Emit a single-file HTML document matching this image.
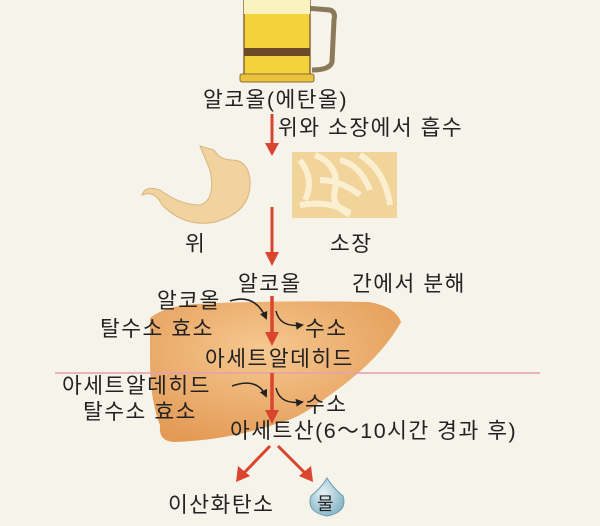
<!DOCTYPE html>
<html><head><meta charset="utf-8"><style>
html,body{margin:0;padding:0;background:#f6f3ea;}
svg{display:block;}
text{font-family:"Liberation Sans","Noto Sans CJK KR",sans-serif;fill:#222;font-size:21.5px;letter-spacing:1.5px;}
</style></head><body>
<svg width="600" height="526" viewBox="0 0 600 526" xmlns="http://www.w3.org/2000/svg">
<defs>
<marker id="ah" markerWidth="8" markerHeight="8" refX="6" refY="4" orient="auto" markerUnits="userSpaceOnUse"><path d="M0,0 L8,4 L0,8 z" fill="#222"/></marker>
<radialGradient id="lv" cx="0.45" cy="0.35" r="0.7"><stop offset="0" stop-color="#f6c890"/><stop offset="1" stop-color="#e39a55"/></radialGradient>
<radialGradient id="dr" cx="0.4" cy="0.4" r="0.7"><stop offset="0" stop-color="#e6f2f6"/><stop offset="1" stop-color="#7fb0c4"/></radialGradient>
</defs>
<rect width="600" height="526" fill="#f6f3ea"/>
<!-- mug -->
<path d="M306,8 L330,10 Q336,12 334,20 L332,62 Q330,70 312,70" fill="none" stroke="#8a7a5a" stroke-width="5"/>
<rect x="244" y="0" width="66" height="78" fill="#f3d23a" stroke="#8a6a3a" stroke-width="1.5"/>
<rect x="244" y="0" width="66" height="14" fill="#fbf2c2"/>
<rect x="244" y="48" width="66" height="8" fill="#6b4a2a"/>
<rect x="240" y="74" width="74" height="8" rx="2" fill="#e9c43a" stroke="#8a6a3a"/>
<text x="203" y="107">알코올(에탄올)</text>
<!-- arrow 1 -->
<line x1="272" y1="114" x2="272" y2="145" stroke="#d9452e" stroke-width="3"/>
<path d="M265,143 L279,143 L272,156 z" fill="#d9452e"/>
<text x="278" y="135">위와 소장에서 흡수</text>
<!-- stomach -->
<path d="M200,146 Q206,160 210,170 Q216,200 200,205 Q180,205 160,190 Q145,185 142,195 Q155,190 162,205 Q185,228 215,222 Q252,212 250,180 Q248,160 232,160 Q220,160 214,150 Z" fill="#f1d3a0" stroke="#d9b57a"/>
<text x="185" y="251">위</text>
<!-- intestine -->
<rect x="292" y="152" width="105" height="66" fill="#f0d49a"/>
<path d="M300,160 q15,20 5,40 M315,155 q25,10 20,35 q-5,15 15,25 M340,160 q20,5 30,30 M360,155 q25,15 30,50 M300,205 q30,-5 50,8 M320,180 q20,0 40,15" stroke="#fbefd0" stroke-width="6" fill="none"/>
<text x="330" y="251">소장</text>
<!-- arrow 2 -->
<line x1="272" y1="207" x2="272" y2="254" stroke="#d9452e" stroke-width="3"/>
<path d="M265,252 L279,252 L272,266 z" fill="#d9452e"/>
<text x="238" y="291">알코올</text>
<text x="352" y="291">간에서 분해</text>
<!-- liver -->
<path d="M150,318 Q165,306 195,304 Q280,300 368,302 Q395,306 401,322 Q380,360 330,395 Q300,418 282,422 Q230,440 175,442 Q158,442 160,425 Q150,400 150,360 Z" fill="url(#lv)"/>
<!-- pink line -->
<line x1="55" y1="373" x2="540" y2="373" stroke="#e7a3ad" stroke-width="2" opacity="0.8"/>
<!-- center arrows -->
<line x1="272" y1="296" x2="272" y2="334" stroke="#d9452e" stroke-width="3.5"/>
<path d="M265,332 L279,332 L272,346 z" fill="#d9452e"/>
<line x1="272" y1="373" x2="272" y2="412" stroke="#d9452e" stroke-width="3.5"/>
<path d="M265,410 L279,410 L272,424 z" fill="#d9452e"/>
<text x="157" y="308">알코올</text>
<text x="100" y="336">탈수소 효소</text>
<path d="M230,301 Q255,293 266,318" fill="none" stroke="#222" stroke-width="1.5" marker-end="url(#ah)"/>
<path d="M276,311 Q280,328 302,325" fill="none" stroke="#222" stroke-width="1.5" marker-end="url(#ah)"/>
<text x="305" y="336">수소</text>
<text x="205" y="366">아세트알데히드</text>
<text x="62" y="393">아세트알데히드</text>
<text x="83" y="419">탈수소 효소</text>
<path d="M232,386 Q257,377 266,396" fill="none" stroke="#222" stroke-width="1.5" marker-end="url(#ah)"/>
<path d="M276,388 Q280,405 302,402" fill="none" stroke="#222" stroke-width="1.5" marker-end="url(#ah)"/>
<text x="305" y="412">수소</text>
<text x="230" y="438">아세트산(6～10시간 경과 후)</text>
<!-- bottom arrows -->
<line x1="270" y1="446" x2="243" y2="474" stroke="#d9452e" stroke-width="3"/>
<path d="M236,482 L238,466 L250,476 z" fill="#d9452e"/>
<line x1="278" y1="446" x2="306" y2="474" stroke="#d9452e" stroke-width="3"/>
<path d="M313,482 L299,476 L311,466 z" fill="#d9452e"/>
<text x="168" y="512">이산화탄소</text>
<path d="M327,478 Q333,488 343,496 Q348,512 327,516 Q306,512 311,496 Q321,488 327,478 Z" fill="url(#dr)" stroke="#6a9ab0"/>
<text x="317" y="510" style="font-size:18px;letter-spacing:0">물</text>
</svg>
</body></html>
